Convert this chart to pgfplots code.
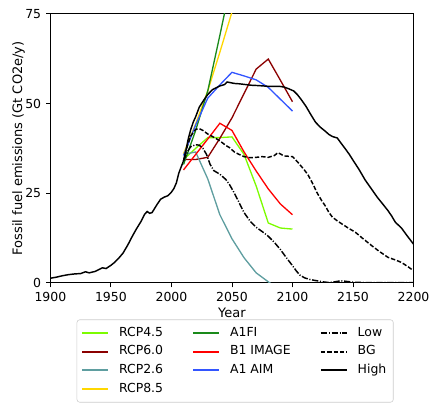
\documentclass[border=0pt]{standalone}
\usepackage{fontspec}
\setmainfont{DejaVu Sans}
\usepackage{pgfplots}
\pgfplotsset{compat=1.18}
\definecolor{c45}{HTML}{7CFC00}
\definecolor{c60}{HTML}{8B0000}
\definecolor{c26}{HTML}{5F9EA0}
\definecolor{c85}{HTML}{FFD700}
\definecolor{cfi}{HTML}{1A8A1A}
\definecolor{cb1}{HTML}{FF0000}
\definecolor{caim}{HTML}{3355FF}
\tikzset{
  mpldash/.style={dash pattern=on 3.2pt off 1.4pt},
  mpldashdot/.style={dash pattern=on 4.6pt off 1.2pt on 0.8pt off 1.2pt},
  col/.style={line width=0.95pt},
  blk/.style={draw=black, line width=1.05pt},
}
\begin{document}
\begin{tikzpicture}
\begin{axis}[
  at={(0,0)}, anchor=south west,
  scale only axis, width=262.4pt, height=194.4pt,
  xmin=1900, xmax=2200, ymin=0, ymax=75,
  xtick={1900,1950,...,2200}, ytick={0,25,50,75},
  tick align=outside, tick pos=left,
  major tick length=3.15pt,
  every tick/.style={black, line width=0.6pt},
  axis line style={line width=0.6pt},
  /pgf/number format/assume math mode=true,
  /pgf/number format/1000 sep={},
  tick label style={font=\fontsize{9}{10.8}\selectfont},
  label style={font=\fontsize{9.4}{11}\selectfont},
  xlabel={Year}, ylabel={Fossil fuel emissions (Gt CO2e/y)},
  xlabel style={yshift=2.5pt},
  ylabel style={yshift=-6.5pt},
  legend columns=3,
  legend cell align=left,
  legend image code/.code={\draw[#1, line width=1.4pt] (0pt,0pt) -- (19pt,0pt);},
  legend style={at={(0.0724,-0.136)}, anchor=north west, draw=black!20,
    rounded corners=2pt, font=\fontsize{9}{10.8}\selectfont,
    inner sep=3pt, row sep=0.8pt,
    /tikz/every odd column/.append style={column sep=5pt},
    /tikz/every even column/.append style={column sep=19pt},
    nodes={text height=6.8pt, text depth=2pt}},
]
% historical
\addplot[blk, forget plot] coordinates {
(1900,1.3)(1905,1.6)(1910,2.0)(1915,2.3)(1920,2.5)(1925,2.6)(1929,3.1)(1932,2.8)
(1937,3.2)(1940,3.7)(1943,4.2)(1946,4.0)(1950,4.9)(1953,5.7)(1957,7.1)(1960,8.3)
(1964,10.6)(1968,13.2)(1971,15.0)(1975,17.2)(1978,19.2)(1980,19.9)(1982,19.4)
(1984,19.6)(1988,21.8)(1991,23.3)(1994,23.9)(1997,24.3)(2000,25.3)(2002,26.3)
(2004,27.8)(2006,30.5)(2008,32.3)(2010,34.0)};
% RCP4.5
\addplot[col, color=c45, forget plot] coordinates {(2010,34.4)(2020,37.5)(2030,40.5)(2040,40.5)(2050,40.7)(2060,35.8)(2070,27.0)(2080,16.7)(2090,15.3)(2100,15.0)};
% RCP6.0
\addplot[col, color=c60, forget plot] coordinates {(2010,34.4)(2020,34.4)(2030,35.0)(2040,40.3)(2050,46.0)(2060,52.8)(2070,59.6)(2080,62.4)(2090,56.5)(2100,50.5)};
% RCP2.6
\addplot[col, color=c26, forget plot] coordinates {(2010,35.8)(2020,36.5)(2030,29.0)(2040,19.0)(2050,12.3)(2060,7.0)(2070,2.8)(2080,0.3)(2090,-2.0)(2100,-3.0)};
% RCP8.5
\addplot[col, color=c85, forget plot] coordinates {(2010,36.0)(2020,44.3)(2030,53.5)(2040,64.3)(2050,75.5)(2060,87.0)};
% A1FI
\addplot[col, color=cfi, forget plot] coordinates {(2010,33.0)(2020,42.5)(2030,53.5)(2040,69.0)(2050,85.0)};
% B1 IMAGE
\addplot[col, color=cb1, forget plot] coordinates {(2010,31.5)(2020,35.8)(2030,40.1)(2040,44.5)(2050,42.5)(2060,36.5)(2070,31.2)(2080,26.2)(2090,22.0)(2100,19.0)};
% A1 AIM
\addplot[col, color=caim, forget plot] coordinates {(2010,35.5)(2020,44.0)(2030,51.5)(2040,55.2)(2050,58.7)(2060,57.7)(2070,56.6)(2080,54.5)(2090,51.2)(2100,47.9)};
% Low
\addplot[blk, mpldashdot, forget plot] coordinates {
(2010,34.0)(2013,36.5)(2016,38.0)(2020,38.5)(2023,38.4)(2026,37.5)(2029,35.8)(2032,33.0)
(2035,31.3)(2040,30.3)(2045,28.8)(2048,27.4)(2052,25.0)(2055,23.0)(2060,19.6)(2065,17.2)
(2070,15.5)(2075,14.3)(2080,13.0)(2085,11.3)(2090,9.3)(2095,7.0)(2100,4.8)(2103,3.4)
(2106,2.2)(2110,1.4)(2115,0.9)(2120,0.6)(2125,0.3)(2130,0.1)(2135,0.3)(2140,0.6)
(2145,0.4)(2150,0.2)(2160,0.1)(2170,0.1)(2180,0.1)(2200,0.1)};
% BG
\addplot[blk, mpldash, forget plot] coordinates {
(2010,34.0)(2013,38.0)(2016,41.0)(2020,42.8)(2023,43.0)(2026,42.5)(2030,41.5)(2035,40.6)
(2040,39.6)(2045,38.3)(2048,37.7)(2052,36.5)(2056,35.8)(2060,35.2)(2065,34.9)(2070,35.0)
(2075,35.2)(2080,35.0)(2085,35.5)(2088,36.3)(2093,35.4)(2100,35.2)(2104,33.8)(2107,32.6)
(2110,31.4)(2113,30.0)(2117,27.5)(2120,25.3)(2124,23.0)(2127,21.5)(2130,19.7)(2133,18.3)
(2137,17.3)(2141,16.4)(2146,15.3)(2152,14.1)(2158,12.4)(2165,10.5)(2172,8.7)(2179,7.1)
(2185,6.4)(2190,5.7)(2195,4.6)(2200,3.4)};
% High
\addplot[blk, forget plot] coordinates {
(2010,34.0)(2012,37.0)(2014,40.3)(2016,42.8)(2018,44.8)(2020,46.3)(2023,49.0)(2027,51.1)
(2030,52.5)(2034,53.9)(2040,54.9)(2044,55.3)(2046,56.0)(2049,55.8)(2052,55.6)(2056,55.5)
(2061,55.3)(2066,55.1)(2072,55.0)(2080,54.8)(2089,54.8)(2093,54.6)(2097,54.1)(2101,53.5)
(2104,52.5)(2107,51.2)(2111,49.3)(2115,47.0)(2119,44.8)(2123,43.4)(2127,42.3)(2130,41.4)
(2133,40.8)(2137,40.4)(2140,39.0)(2144,37.2)(2147,35.8)(2150,34.2)(2155,31.6)(2160,28.7)
(2165,26.3)(2170,23.9)(2175,21.8)(2179,20.1)(2182,18.6)(2185,16.9)(2190,15.3)(2195,13.0)
(2200,10.8)};
% legend (row-major order for 3 columns)
\addlegendimage{col, draw=c45}\addlegendentry{RCP4.5}
\addlegendimage{col, draw=cfi}\addlegendentry{A1FI}
\addlegendimage{blk, mpldashdot}\addlegendentry{Low}
\addlegendimage{col, draw=c60}\addlegendentry{RCP6.0}
\addlegendimage{col, draw=cb1}\addlegendentry{B1 IMAGE}
\addlegendimage{blk, mpldash}\addlegendentry{BG}
\addlegendimage{col, draw=c26}\addlegendentry{RCP2.6}
\addlegendimage{col, draw=caim}\addlegendentry{A1 AIM}
\addlegendimage{blk}\addlegendentry{High}
\addlegendimage{col, draw=c85}\addlegendentry{RCP8.5}
\end{axis}
\path (-36.4pt,-83.5pt) rectangle (276.1pt,204.4pt);
\end{tikzpicture}
\end{document}
